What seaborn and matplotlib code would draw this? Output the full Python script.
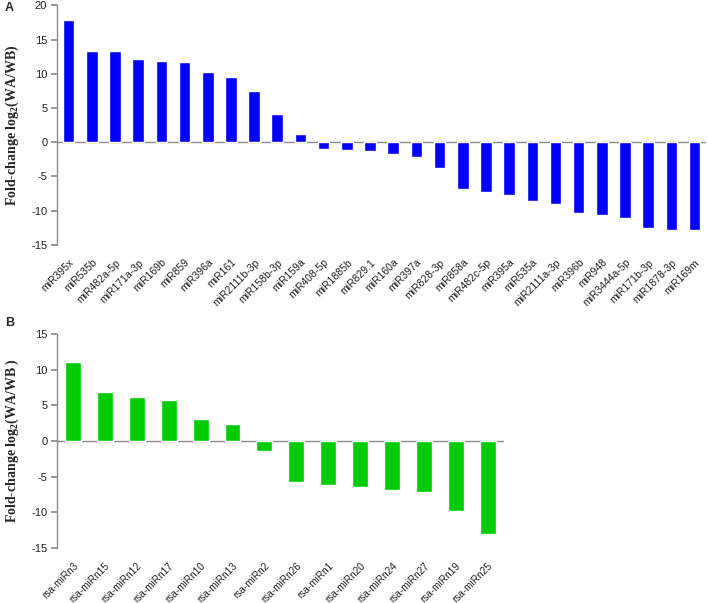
import matplotlib
matplotlib.use("Agg")
import matplotlib.pyplot as plt
import numpy as np
import pandas as pd
import seaborn as sns

# panel A: miRNAs (blue)
mirs_a = ["miR395x", "miR535b", "miR482a-5p", "miR171a-3p", "miR169b", "miR859",
          "miR396a", "miR161", "miR2111b-3p", "miR158b-3p", "miR159a", "miR408-5p",
          "miR1885b", "miR829.1", "miR160a", "miR397a", "miR828-3p", "miR858a",
          "miR482c-5p", "miR395a", "miR535a", "miR2111a-3p", "miR396b", "miR948",
          "miR3444a-5p", "miR171b-3p", "miR1878-3p", "miR169m"]
fc_a = [17.8, 13.4, 13.3, 12.1, 11.9, 11.7, 10.2, 9.55, 7.45, 4.1, 1.15, -1.05,
        -1.2, -1.35, -1.65, -2.1, -3.7, -6.9, -7.3, -7.7, -8.6, -9.0, -10.3, -10.6,
        -11.1, -12.5, -12.8, -12.8]

# panel B: novel miRNAs (green)
mirs_b = ["rsa-miRn3", "rsa-miRn15", "rsa-miRn12", "rsa-miRn17", "rsa-miRn10",
          "rsa-miRn13", "rsa-miRn2", "rsa-miRn26", "rsa-miRn1", "rsa-miRn20",
          "rsa-miRn24", "rsa-miRn27", "rsa-miRn19", "rsa-miRn25"]
fc_b = [11.1, 6.8, 6.1, 5.8, 3.1, 2.4, -1.4, -5.75, -6.2, -6.5, -6.9, -7.15, -9.75, -13.1]

sns.set_theme(style="white")
plt.rcParams['font.family'] = ['Liberation Sans', 'DejaVu Sans']
plt.rcParams['axes.unicode_minus'] = False
plt.rcParams['mathtext.fontset'] = 'custom'
plt.rcParams['mathtext.rm'] = 'Liberation Serif:bold'
plt.rcParams['mathtext.it'] = 'Liberation Serif:bold'
plt.rcParams['mathtext.bf'] = 'Liberation Serif:bold'

fig = plt.figure(figsize=(7.08, 6.03), dpi=100, facecolor="white")
ax_a = fig.add_axes([0.0805, 0.594, 0.917, 0.397])
ax_b = fig.add_axes([0.0805, 0.0912, 0.631, 0.355])


def style_panel(ax, labels, values, color, ylim, ticks, ylab, xfs):
    df = pd.DataFrame({"mir": labels, "fc": values})
    sns.barplot(data=df, x="mir", y="fc", color=color, width=0.5,
                saturation=1, ax=ax)
    ax.set_xlim(-0.5, len(labels) - 0.5)
    ax.set_ylim(*ylim)
    ax.set_yticks(ticks)
    ax.set_yticklabels([str(t) for t in ticks], fontsize=8, color="#222222")
    ax.axhline(0, color="#8c8c8c", lw=1, zorder=0)
    for s in ["top", "right", "bottom"]:
        ax.spines[s].set_visible(False)
    ax.spines["left"].set_color("#8c8c8c")
    ax.spines["left"].set_linewidth(1)
    ax.tick_params(axis="y", left=True, length=4, color="#8c8c8c", pad=3)
    ax.tick_params(axis="x", bottom=False, pad=3)
    ax.set_xticks(range(len(labels)))
    ax.set_xticklabels(labels, rotation=45, ha="right", rotation_mode="anchor",
                       fontsize=xfs, color="#222222")
    ax.set_xlabel("")
    ax.set_ylabel(ylab, fontsize=10, family="Liberation Serif",
                  fontweight="bold", labelpad=7)


style_panel(ax_a, mirs_a, fc_a, "#0000FF", (-15, 20), [-15, -10, -5, 0, 5, 10, 15, 20],
            r"Fold-change log$_{2}$(WA/WB)", 7.5)
style_panel(ax_b, mirs_b, fc_b, "#00CC00", (-15, 15), [-15, -10, -5, 0, 5, 10, 15],
            r"Fold-change log$_{2}$(WA/WB )", 7.2)

fig.text(0.007, 0.997, "A", fontsize=9, fontweight="bold", va="top")
fig.text(0.007, 0.474, "B", fontsize=9, fontweight="bold", va="top")

fig.savefig("out.png", dpi=100, facecolor="white")
